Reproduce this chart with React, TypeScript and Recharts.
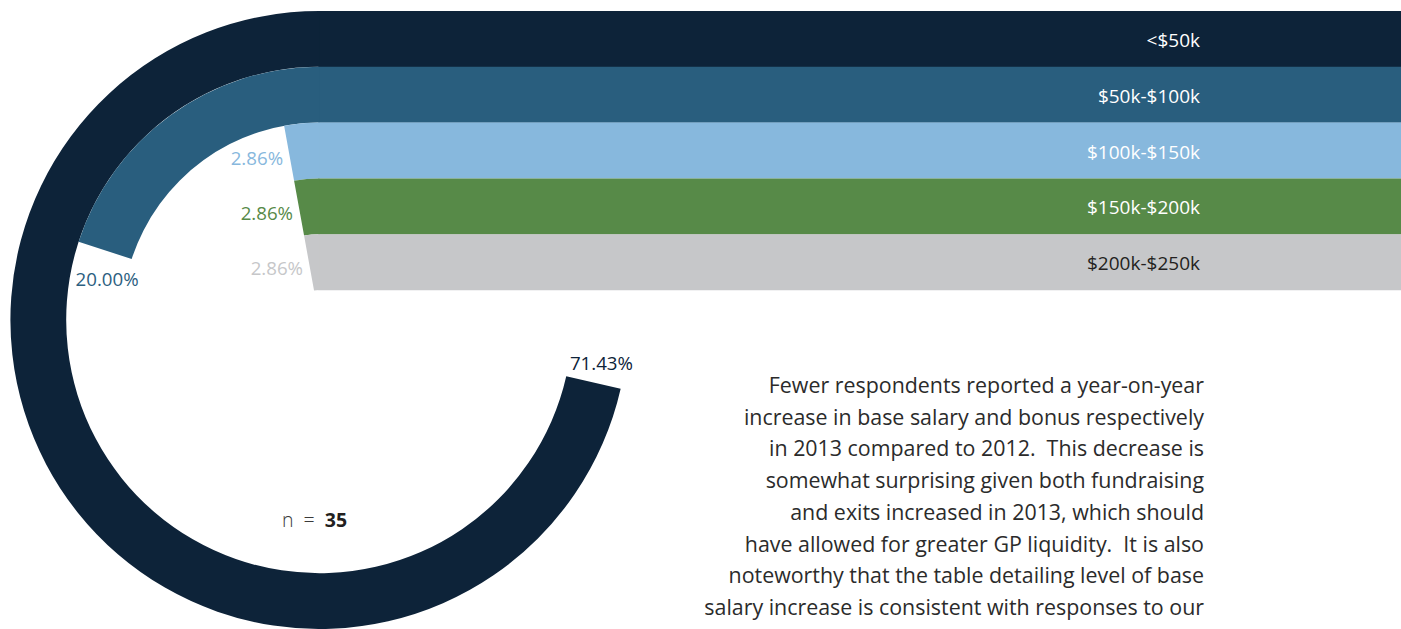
import React from 'react';
import { PieChart, Pie, Cell, BarChart, Bar, XAxis, YAxis, LabelList } from 'recharts';

const categories = ['<$50k', '$50k-$100k', '$100k-$150k', '$150k-$200k', '$200k-$250k'];
const shares = [71.43, 20.0, 2.86, 2.86, 2.86];
const shareLabels = ['71.43%', '20.00%', '2.86%', '2.86%', '2.86%'];
const ringColors = ['#0d2339', '#295e7e', '#87b8dd', '#578a48', '#c6c7c9'];
const shareLabelColors = ['#0d2339', '#2c6080', '#87b8dd', '#578a48', '#c6c7c9'];
const bandTextColors = ['#ffffff', '#ffffff', '#ffffff', '#ffffff', '#231f20'];
const bandValues = [1, 1, 1, 1, 1];
const sampleSize = 35;
const paragraphLines = [
  'Fewer respondents reported a year-on-year',
  'increase in base salary and bonus respectively',
  'in 2013 compared to 2012.  This decrease is',
  'somewhat surprising given both fundraising',
  'and exits increased in 2013, which should',
  'have allowed for greater GP liquidity.  It is also',
  'noteworthy that the table detailing level of base',
  'salary increase is consistent with responses to our',
];

const W = 1401;
const H = 629;
const CX = 319.4;
const CY = 320;
const OUTER = 309;
const RING = 55.8;
const FONT = '"Open Sans", "Noto Sans", sans-serif';

const bandData = categories.map((name, i) => ({ name, band: bandValues[i] }));

const makeShareLabel = (ring: number) => (props: any) => {
  if (props.index !== 0) return <g />;
  const { cx, cy, innerRadius, outerRadius, endAngle } = props;
  const r = (innerRadius + outerRadius) / 2;
  const rad = (-endAngle * Math.PI) / 180;
  const mx = cx + r * Math.cos(rad);
  const my = cy + r * Math.sin(rad);
  let x = mx - 6;
  let y = my + 4;
  let anchor: any = 'end';
  if (ring === 0) {
    x = mx + 8;
    y = my - 20;
    anchor = 'middle';
  } else if (ring === 1) {
    x = mx + 2;
    y = my + 28;
    anchor = 'middle';
  }
  return (
    <text
      x={x}
      y={y}
      textAnchor={anchor}
      dominantBaseline="central"
      fill={shareLabelColors[ring]}
      fontSize={18.7}
      fontFamily={FONT}
    >
      {shareLabels[ring]}
    </text>
  );
};

const BandLabel = (props: any) => {
  const { x, y, width, height, index, value } = props;
  return (
    <text
      x={x + width - 201}
      y={y + height / 2 + 1}
      textAnchor="end"
      dominantBaseline="central"
      fill={bandTextColors[index]}
      fontSize={19}
      fontFamily={FONT}
    >
      {value}
    </text>
  );
};

export default function App() {
  const top = CY - OUTER;
  const bottom = H - (top + RING * categories.length);
  return (
    <div style={{ position: 'absolute', left: 0, top: 0, width: W, height: H, overflow: 'hidden', background: '#fff' }}>
      <div style={{ position: 'absolute', left: 0, top: 0 }}>
        <BarChart
          width={W}
          height={H}
          data={bandData}
          layout="vertical"
          margin={{ top, bottom, left: CX - 1, right: 0 }}
          barCategoryGap={0}
          barGap={0}
        >
          <XAxis type="number" domain={[0, 1]} hide />
          <YAxis type="category" dataKey="name" hide />
          <Bar dataKey="band" isAnimationActive={false}>
            {bandData.map((d, i) => (
              <Cell key={d.name} fill={ringColors[i]} />
            ))}
            <LabelList dataKey="name" content={<BandLabel />} />
          </Bar>
        </BarChart>
      </div>
      <div style={{ position: 'absolute', left: 0, top: 0 }}>
        <PieChart width={W} height={H} margin={{ top: 0, right: 0, bottom: 0, left: 0 }}>
          {categories.map((name, k) => {
            const data = [
              { name, value: shares[k] },
              { name: 'rest', value: 100 - shares[k] },
            ];
            const outer = OUTER - k * RING;
            return (
              <Pie
                key={name}
                data={data}
                dataKey="value"
                cx={CX}
                cy={CY}
                outerRadius={outer}
                innerRadius={outer - RING}
                startAngle={90}
                endAngle={450}
                stroke="none"
                isAnimationActive={false}
                labelLine={false}
                label={makeShareLabel(k)}
              >
                <Cell fill={ringColors[k]} />
                <Cell fill="transparent" />
              </Pie>
            );
          })}
        </PieChart>
      </div>
      <svg width={W} height={H} style={{ position: 'absolute', left: 0, top: 0, pointerEvents: 'none' }}>
        <text x={314.5} y={527} textAnchor="middle" fontFamily={FONT} fontSize={19.5} fill="#3a3a3a" style={{ whiteSpace: 'pre' }}>
          <tspan fontWeight={300}>{'n  =  '}</tspan>
          <tspan fontWeight={700} fill="#231f20">{sampleSize}</tspan>
        </text>
        {paragraphLines.map((line, i) => (
          <text
            key={i}
            x={1204}
            y={393 + i * 31.7}
            textAnchor="end"
            fontFamily={FONT}
            fontSize={21.4}
            fill="#2b2b2b"
            style={{ whiteSpace: 'pre' }}
          >
            {line}
          </text>
        ))}
      </svg>
    </div>
  );
}
